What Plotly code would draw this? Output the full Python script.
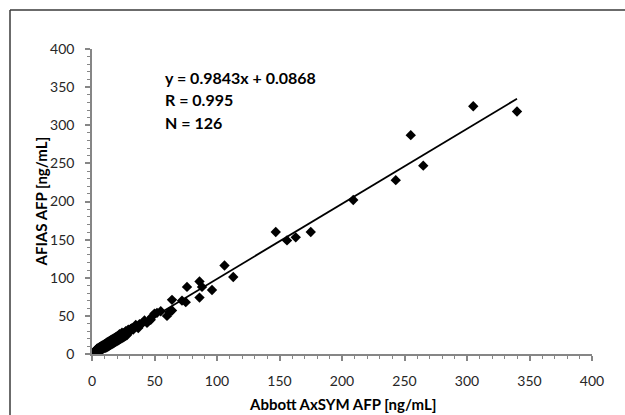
import plotly.graph_objects as go

# Abbott AxSYM AFP (x) vs AFIAS AFP (y), ng/mL
x_vals = [340, 305, 265, 255, 243, 209, 175, 163, 156, 147,
          113, 106, 96, 88, 86, 86, 76, 75, 72, 64, 64, 62, 60, 55, 52, 50, 48, 47, 45, 44,
          42, 40, 38, 37, 36, 35, 33, 32, 31, 30,
          29, 28, 28, 27, 27, 26, 26, 25, 25, 24, 24, 24, 23, 23, 22, 22, 22, 21, 21, 21,
          20, 20, 20, 19, 19, 19, 18, 18, 18, 17, 17, 17, 16, 16, 16, 15, 15, 15, 14, 14,
          14, 13, 13, 13, 12, 12, 12, 11, 11, 11, 10, 10, 10, 9, 9, 9, 8, 8, 8, 7,
          7, 7, 6, 6, 6, 5, 5, 5, 4, 4, 4, 3, 3, 3, 6, 8, 10, 12, 14, 16,
          18, 20, 22, 24, 26, 9]
y_vals = [318, 325, 247, 287, 228, 202, 160, 153, 149, 160,
          101, 116, 84, 88, 95, 74, 88, 68, 70, 71, 57, 55, 50, 56, 54, 53, 49, 45, 43, 41,
          44, 40, 39, 34, 36, 38, 32, 34, 33, 29,
          32, 28, 25, 30, 24, 28, 23, 27, 22, 26, 21, 28, 25, 20, 24, 19, 26, 23, 18, 24,
          22, 17, 23, 21, 16, 22, 20, 15, 21, 19, 14, 20, 18, 13, 19, 17, 12, 18, 16, 11,
          17, 15, 10, 16, 14, 9, 15, 13, 8, 14, 12, 8, 13, 11, 7, 12, 10, 6, 11, 9,
          5, 10, 8, 4, 9, 7, 3, 8, 6, 2, 7, 5, 2, 4, 6, 8, 10, 12, 14, 16,
          18, 20, 22, 24, 26, 9]

slope = 0.9843
intercept = 0.0868
fit_x = [min(x_vals), max(x_vals)]
fit_y = [slope * v + intercept for v in fit_x]

stat_lines = ["y = 0.9843x + 0.0868", "R = 0.995", "N = 126"]
x_ticks = [0, 50, 100, 150, 200, 250, 300, 350, 400]
y_ticks = [0, 50, 100, 150, 200, 250, 300, 350, 400]

FONT = "Lato, 'Open Sans', sans-serif"
AXC = "#868686"

fig = go.Figure()
fig.add_trace(go.Scatter(x=x_vals, y=y_vals, mode="markers",
                         marker=dict(symbol="diamond", size=8, color="black",
                                     line=dict(width=0)),
                         showlegend=False, hoverinfo="skip"))
fig.add_trace(go.Scatter(x=fit_x, y=fit_y, mode="lines",
                         line=dict(color="black", width=1.8),
                         showlegend=False, hoverinfo="skip"))

axis_common = dict(range=[0, 400], showgrid=False, zeroline=False,
                   showline=True, linecolor=AXC, linewidth=1.5,
                   ticks="outside", ticklen=5, tickwidth=1.5, tickcolor=AXC,
                   tickfont=dict(family=FONT, size=14, color="#262626"),
                   minor=dict(dtick=10, ticks="outside", ticklen=3,
                              tickwidth=1, tickcolor=AXC, showgrid=False),
                   fixedrange=True)

fig.update_xaxes(tickvals=x_ticks, ticktext=[str(v) for v in x_ticks],
                 ticklabelstandoff=8, **axis_common)
fig.update_yaxes(tickvals=y_ticks, ticktext=[str(v) for v in y_ticks],
                 ticklabelstandoff=8, **axis_common)

annotations = []
for i, t in enumerate(stat_lines):
    annotations.append(dict(x=57, y=363 - i * 29.5, xref="x", yref="y",
                            text="<b>" + t + "</b>", showarrow=False,
                            xanchor="left", yanchor="middle",
                            font=dict(family=FONT, size=16, color="black")))
annotations.append(dict(x=0.5, y=-0.165, xref="paper", yref="paper",
                        text="<b>Abbott AxSYM AFP [ng/mL]</b>", showarrow=False,
                        xanchor="center", yanchor="middle",
                        font=dict(family=FONT, size=15, color="black")))
annotations.append(dict(x=-0.104, y=0.5, xref="paper", yref="paper",
                        text="<b>AFIAS AFP [ng/mL]</b>", showarrow=False,
                        textangle=-90, xanchor="center", yanchor="middle",
                        font=dict(family=FONT, size=15, color="black")))

shapes = [
    dict(type="line", xref="paper", yref="paper", x0=-0.164, x1=-0.164,
         y0=1.128, y1=-0.21, line=dict(color="#3a3a3a", width=1.5)),
    dict(type="line", xref="paper", yref="paper", x0=-0.164, x1=1.07,
         y0=1.128, y1=1.128, line=dict(color="#3a3a3a", width=1.5)),
]

fig.update_layout(width=625, height=415,
                  margin=dict(l=92, r=33, t=49, b=61),
                  paper_bgcolor="white", plot_bgcolor="white",
                  annotations=annotations, shapes=shapes,
                  font=dict(family=FONT))

fig.write_html("out.html", config={"displayModeBar": False},
               post_script="document.body.style.margin='0';document.body.style.overflow='hidden';")
